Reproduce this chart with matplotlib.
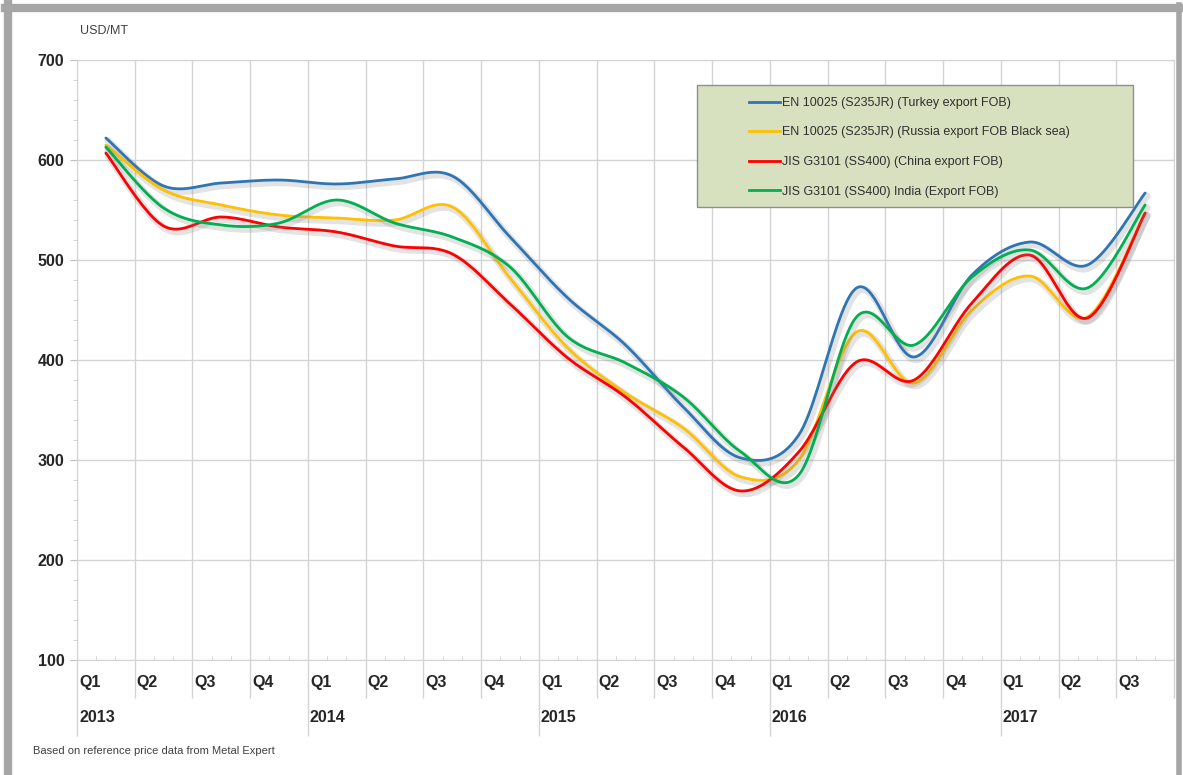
import matplotlib
matplotlib.use('Agg')
import matplotlib.pyplot as plt
import matplotlib.patheffects as pe
from matplotlib.patches import Rectangle
from matplotlib.lines import Line2D
import numpy as np

# quarterly reference prices, USD/MT (mid-quarter points, 2013 Q1 .. 2017 Q3)
periods = ['2013Q1', '2013Q2', '2013Q3', '2013Q4',
           '2014Q1', '2014Q2', '2014Q3', '2014Q4',
           '2015Q1', '2015Q2', '2015Q3', '2015Q4',
           '2016Q1', '2016Q2', '2016Q3', '2016Q4',
           '2017Q1', '2017Q2', '2017Q3']
turkey = [622, 574, 577, 580, 576, 581, 584, 523, 462, 415, 353, 302, 325, 472, 403, 485, 518, 495, 567]
russia = [615, 570, 555, 545, 542, 540, 553, 482, 412, 367, 332, 283, 300, 428, 377, 450, 484, 443, 547]
china = [607, 534, 543, 533, 528, 514, 506, 456, 402, 363, 313, 269, 308, 398, 380, 457, 505, 442, 547]
india = [613, 552, 535, 537, 560, 537, 523, 493, 423, 397, 363, 308, 285, 443, 415, 483, 510, 472, 555]

series_names = ['EN 10025 (S235JR) (Turkey export FOB)',
                'EN 10025 (S235JR) (Russia export FOB Black sea)',
                'JIS G3101 (SS400) (China export FOB)',
                'JIS G3101 (SS400) India (Export FOB)']
colors = ['#2e75b6', '#ffc000', '#ff0000', '#00b050']

axis_quarters = ['Q1', 'Q2', 'Q3', 'Q4'] * 5
axis_years = ['2013', '2014', '2015', '2016', '2017']


def smooth(xs, ys, n=24):
    # Excel-like smoothed line (Catmull-Rom through the data points)
    pts = np.column_stack([xs, ys]).astype(float)
    p = np.vstack([pts[0], pts, pts[-1]])
    t = np.linspace(0, 1, n, endpoint=False)[:, None]
    out = []
    for i in range(1, len(p) - 2):
        p0, p1, p2, p3 = p[i - 1], p[i], p[i + 1], p[i + 2]
        seg = 0.5 * (2 * p1 + (p2 - p0) * t
                     + (2 * p0 - 5 * p1 + 4 * p2 - p3) * t ** 2
                     + (-p0 + 3 * p1 - 3 * p2 + p3) * t ** 3)
        out.append(seg)
    out.append(pts[-1:])
    s = np.vstack(out)
    return s[:, 0], s[:, 1]


plt.rcParams['font.family'] = ['Liberation Sans', 'DejaVu Sans']

W, H = 1183, 775
fig = plt.figure(figsize=(W / 100, H / 100), dpi=100)
ax = fig.add_axes([77 / W, 1 - 660 / H, (1174 - 77) / W, 600 / H])

xpos = np.arange(len(periods)) + 0.5
for vals, name, c in zip([turkey, russia, china, india], series_names, colors):
    sx, sy = smooth(xpos, vals)
    ax.plot(sx, sy, color=c, lw=2.0, solid_capstyle='round', label=name,
            path_effects=[pe.Stroke(offset=(1.5, -2), linewidth=5, foreground='#808080', alpha=0.22),
                          pe.Normal()])

ax.set_xlim(0, 19)
ax.set_ylim(100, 700)

grid_c = '#d4d4d4'
ax.set_yticks(range(100, 701, 100))
ax.set_yticks(range(100, 701, 20), minor=True)
ax.set_xticks(range(0, 20))
ax.set_xticks(np.arange(0, 19, 1 / 3), minor=True)
ax.grid(True, which='major', color=grid_c, lw=1)
for s in ax.spines.values():
    s.set_color(grid_c)
ax.tick_params(axis='y', which='major', length=5, color='#bfbfbf', labelsize=11.5, pad=4)
ax.tick_params(axis='y', which='minor', length=3, color='#d0d0d0')
ax.tick_params(axis='x', which='minor', length=3, color='#d0d0d0', direction='in')
ax.tick_params(axis='x', which='major', color=grid_c, width=1, labelbottom=False)
for i, tk in enumerate(ax.xaxis.get_major_ticks()):
    tk.tick1line.set_markersize(55 if i % 4 == 0 else 27)
for lab in ax.get_yticklabels():
    lab.set_fontweight('bold')
    lab.set_color('#262626')

# two-level category axis labels
for k, q in enumerate(axis_quarters[:19]):
    ax.annotate(q, xy=(k, 0), xycoords=('data', 'axes fraction'),
                xytext=(2, -23), textcoords='offset pixels', ha='left', va='center',
                fontsize=11.5, fontweight='bold', color='#262626')
for j, y in enumerate(axis_years):
    ax.annotate(y, xy=(4 * j, 0), xycoords=('data', 'axes fraction'),
                xytext=(2, -58), textcoords='offset pixels', ha='left', va='center',
                fontsize=11.5, fontweight='bold', color='#262626')

fig.text(80 / W, 1 - 31 / H, 'USD/MT', fontsize=9, color='#404040', va='center')
fig.text(33 / W, 1 - 751 / H, 'Based on reference price data from Metal Expert',
         fontsize=8, color='#404040', va='center')

# legend box
box = Rectangle((697 / W, 1 - 207 / H), 436 / W, 122 / H, transform=fig.transFigure,
                facecolor='#d8e1bf', edgecolor='#8f8f8f', lw=1, zorder=5, clip_on=False)
ax.add_patch(box)
handles = [Line2D([], [], color=c, lw=2) for c in colors]
leg = ax.legend(handles, series_names, loc='upper left',
                bbox_to_anchor=(744 / W, 1 - 92 / H), bbox_transform=fig.transFigure,
                frameon=False, fontsize=9, handlelength=2.5, handletextpad=0.1,
                labelspacing=1.4, borderaxespad=0)
leg.set_zorder(6)
for t in leg.get_texts():
    t.set_color('#303030')

# outer frame
fc = '#a6a6a6'
fig.add_artist(Line2D([8 / W, 8 / W], [0, 1 - 4 / H], transform=fig.transFigure, color=fc, lw=6))
fig.add_artist(Line2D([5 / W, 1 - 4 / W], [1 - 8 / H, 1 - 8 / H], transform=fig.transFigure, color=fc, lw=6))
fig.add_artist(Line2D([1 - 4 / W, 1 - 4 / W], [0, 1 - 5 / H], transform=fig.transFigure, color=fc, lw=4))

fig.savefig('out.png', dpi=100)
